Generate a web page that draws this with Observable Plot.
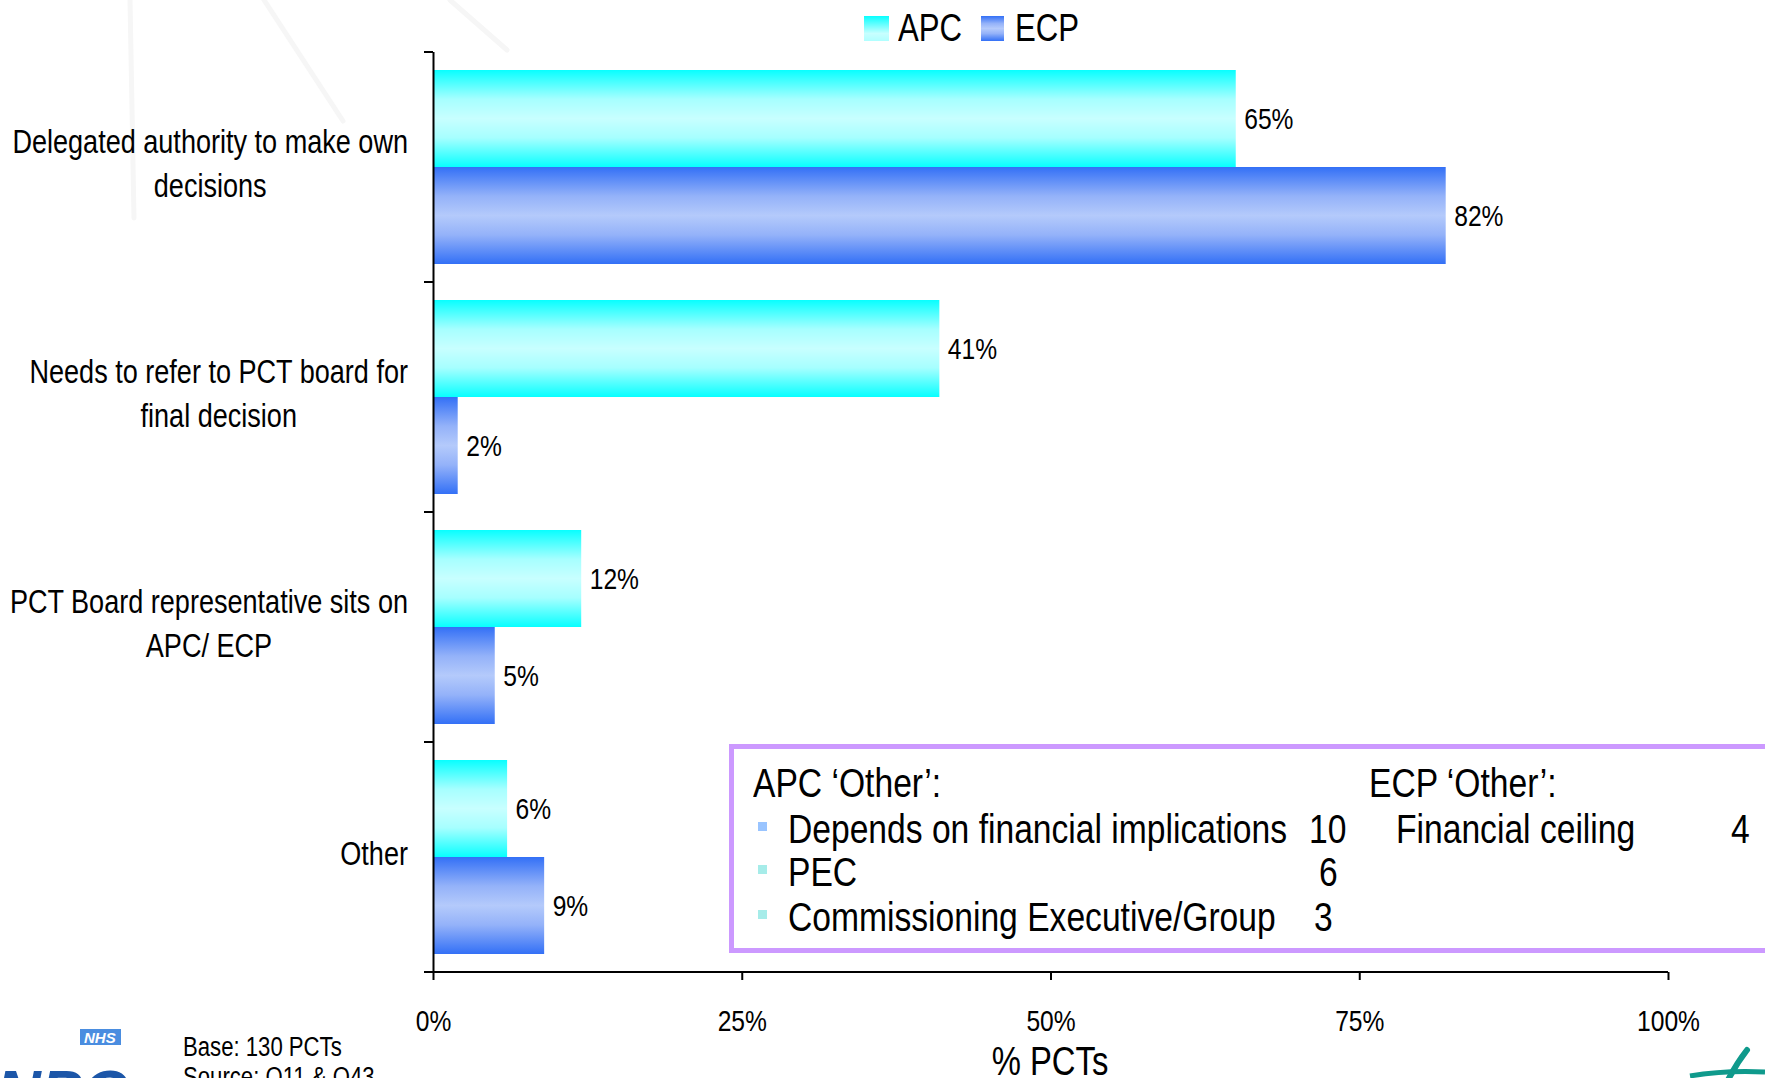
<!DOCTYPE html>
<html><head><meta charset="utf-8">
<script src="https://cdn.jsdelivr.net/npm/d3@7"></script>
<script src="https://cdn.jsdelivr.net/npm/@observablehq/plot@0.6"></script>
<style>
body{margin:0;background:#fff;}
#wrap{position:relative;width:1765px;height:1078px;overflow:hidden;font-family:"Liberation Sans",Arial,sans-serif;color:#000;}
.abs{position:absolute;white-space:nowrap;line-height:1;}
</style></head><body>
<div id="wrap"></div>
<script>
// ---------- data ----------
const categories = ["Delegated authority to make own decisions", "Needs to refer to PCT board for final decision", "PCT Board representative sits on APC/ ECP", "Other"];
const categoryLines = [["Delegated authority to make own","decisions"],["Needs to refer to PCT board for","final decision"],["PCT Board representative sits on","APC/ ECP"],["Other"]];
const series = ["APC","ECP"];
const apcValues = [65,41,12,6];
const ecpValues = [82,2,5,9];
const xTicks = [0,25,50,75,100];
const apcOtherLabels = ["Depends on financial implications","PEC","Commissioning Executive/Group"];
const apcOtherCounts = [10,6,3];
const ecpOtherLabels = ["Financial ceiling"];
const ecpOtherCounts = [4];
const baseText = ["Base: 130 PCTs","Source: Q11 & Q43"];

const rows = [];
categories.forEach((c,i)=>{
  rows.push({cat:c, series:"APC", value:apcValues[i]});
  rows.push({cat:c, series:"ECP", value:ecpValues[i]});
});

const FONT = '"Liberation Sans",Arial,sans-serif';
const NARROW = 0.82;
const W = 1765, H = 1078;
const wrap = document.getElementById("wrap");

// faint slide-background watermark strokes
const bg = document.createElementNS("http://www.w3.org/2000/svg","svg");
bg.setAttribute("width","600"); bg.setAttribute("height","240");
bg.innerHTML = '<g stroke="#f6f6f6" stroke-width="5" fill="none" stroke-linecap="round">' +
  '<path d="M130 0 L134 218"/><path d="M264 0 L343 121"/><path d="M450 0 L507 50"/></g>';
Object.assign(bg.style, {position:"absolute", left:"0", top:"0"}); wrap.appendChild(bg);

// gradient defs (shared by plot and legend)
const defs = document.createElementNS("http://www.w3.org/2000/svg","svg");
defs.setAttribute("width","0");defs.setAttribute("height","0");
defs.style.position="absolute";
defs.innerHTML = `<defs>
<linearGradient id="gAPC" x1="0" y1="0" x2="0" y2="1">
 <stop offset="0" stop-color="#08ffff"/><stop offset="0.3" stop-color="#a6ffff"/>
 <stop offset="0.5" stop-color="#c8ffff"/><stop offset="0.7" stop-color="#a6ffff"/>
 <stop offset="1" stop-color="#08ffff"/></linearGradient>
<linearGradient id="gECP" x1="0" y1="0" x2="0" y2="1">
 <stop offset="0" stop-color="#3370f6"/><stop offset="0.3" stop-color="#94b2f9"/>
 <stop offset="0.5" stop-color="#b4cafb"/><stop offset="0.7" stop-color="#94b2f9"/>
 <stop offset="1" stop-color="#3370f6"/></linearGradient>
<linearGradient id="gAPCsw" x1="0" y1="0" x2="0" y2="1">
 <stop offset="0" stop-color="#08ffff"/><stop offset="0.7" stop-color="#c8ffff"/>
 <stop offset="1" stop-color="#b0ffff"/></linearGradient>
</defs>`;
wrap.appendChild(defs);

const plot = Plot.plot({
  width: W, height: H,
  marginLeft: 433, marginRight: 97, marginTop: 51, marginBottom: 105,
  style: {fontFamily: FONT, fontSize: "30px", background: "transparent", color: "#000", overflow: "visible"},
  facet: {data: rows, y: "cat"},
  fy: {domain: categories, padding: 0, axis: null, label: null},
  y: {domain: series, paddingInner: 0, paddingOuter: 0.176, axis: null},
  x: {domain: [0,100], ticks: xTicks, tickFormat: d => d + "%", tickSize: 8, tickPadding: 29, label: null},
  marks: [
    Plot.barX(rows, {filter: d => d.series === "APC", x: "value", y: "series", fill: "url(#gAPC)"}),
    Plot.barX(rows, {filter: d => d.series === "ECP", x: "value", y: "series", fill: "url(#gECP)"}),
    Plot.text(rows, {x: "value", y: "series", text: d => d.value + "%", textAnchor: "start", dx: 8, fontSize: 30, fill: "#000"}),
    Plot.ruleX([0], {stroke: "#000", strokeWidth: 2})
  ]
});
plot.style.position = "absolute"; plot.style.left = "0"; plot.style.top = "0";
wrap.appendChild(plot);

// axis decorations through the plot's scales
const svg = d3.select(plot);
const xs = plot.scale("x");
let fyS = null; try { fyS = plot.scale("fy"); } catch(e) {}
const top0 = 51, bottom0 = H - 105;
let starts, bw;
if (fyS && fyS.apply && fyS.bandwidth) { starts = categories.map(c => fyS.apply(c)); bw = fyS.bandwidth; }
else { bw = (bottom0 - top0) / categories.length; starts = categories.map((c,i) => top0 + i * bw); }
const x0 = xs.apply(0), x100 = xs.apply(100);
const deco = svg.append("g").attr("stroke", "#000").attr("stroke-width", 2);
deco.append("line").attr("x1", x0 - 9).attr("x2", x100).attr("y1", starts[3] + bw).attr("y2", starts[3] + bw);
[...starts, starts[3] + bw].forEach(b => deco.append("line").attr("x1", x0 - 9).attr("x2", x0).attr("y1", b).attr("y2", b));
svg.selectAll('g[aria-label="x-axis tick"] path, g[aria-label="x-axis"] line').attr("stroke-width", 2);

// narrow all plot texts (condensed look)
svg.selectAll("text").each(function() {
  const w = this.getComputedTextLength();
  if (w > 0) { this.setAttribute("textLength", w * NARROW); this.setAttribute("lengthAdjust", "spacingAndGlyphs"); }
});

// category labels (block right-aligned, lines centred)
const labG = svg.append("g").attr("font-family", FONT).attr("font-size", 33).attr("fill", "#000");
const rightEdge = 408, lh = 44;
categoryLines.forEach((lines, i) => {
  const cy = starts[i] + bw / 2 - 4;
  const widths = lines.map(t => { const n = labG.append("text").text(t); const w = n.node().getComputedTextLength(); n.remove(); return w; });
  const cx = rightEdge - NARROW * Math.max(...widths) / 2;
  lines.forEach((t, k) => {
    labG.append("text").attr("x", cx).attr("y", cy + (k - (lines.length - 1) / 2) * lh)
      .attr("dy", "0.36em").attr("text-anchor", "middle")
      .attr("textLength", widths[k] * NARROW).attr("lengthAdjust", "spacingAndGlyphs").text(t);
  });
});

// ---------- HTML annotations ----------
function addText(txt, left, cy, fs, extra, noNarrow) {
  const d = document.createElement("div");
  d.className = "abs"; d.textContent = txt;
  d.style.left = left + "px"; d.style.top = (cy - fs * 0.5) + "px"; d.style.fontSize = fs + "px";
  if (!noNarrow) { d.style.transform = "scaleX(" + NARROW + ")"; d.style.transformOrigin = "0 50%"; }
  if (extra) Object.assign(d.style, extra);
  wrap.appendChild(d); return d;
}
function addBox(left, top, w, h, style) {
  const d = document.createElement("div"); d.className = "abs";
  Object.assign(d.style, {left: left + "px", top: top + "px", width: w + "px", height: h + "px", boxSizing: "border-box"}, style);
  wrap.appendChild(d); return d;
}
// legend
const sw1 = document.createElementNS("http://www.w3.org/2000/svg","svg");
sw1.setAttribute("width","25"); sw1.setAttribute("height","25");
sw1.innerHTML = '<rect width="25" height="25" fill="url(#gAPCsw)"/>';
Object.assign(sw1.style, {position:"absolute", left:"864px", top:"16px"}); wrap.appendChild(sw1);
const sw2 = document.createElementNS("http://www.w3.org/2000/svg","svg");
sw2.setAttribute("width","23"); sw2.setAttribute("height","25");
sw2.innerHTML = '<rect width="23" height="25" fill="url(#gECP)"/>';
Object.assign(sw2.style, {position:"absolute", left:"981px", top:"16px"}); wrap.appendChild(sw2);
addText(series[0], 898, 28, 38);
addText(series[1], 1015, 28, 38);

// axis title
addText("% PCTs", 1050, 1061, 40, {transform: "translateX(-50%) scaleX(" + NARROW + ")", transformOrigin: "50% 50%"});

// "Other" box
addBox(729, 744, 1100, 209, {border: "5px solid #cc99ff", background: "#fff"});
addText("APC \u2018Other\u2019:", 753, 783, 41);
addText("ECP \u2018Other\u2019:", 1369, 783, 41);
const lineY = [829, 872, 917];
const countX = [1309, 1319, 1314];
const bulletCol = ["#99c4ff", "#a6ece9", "#a6ece9"];
apcOtherLabels.forEach((t, i) => {
  addBox(758, lineY[i] - 7, 9, 9, {background: bulletCol[i]});
  addText(t, 788, lineY[i], 41);
  addText(String(apcOtherCounts[i]), countX[i], lineY[i], 41);
});
ecpOtherLabels.forEach((t, i) => {
  addText(t, 1396, lineY[i], 41);
  addText(String(ecpOtherCounts[i]), 1731, lineY[i], 41);
});

// base / source
addText(baseText[0], 183, 1047, 27);
addText(baseText[1], 183, 1077, 27);

// logos (decorative)
addBox(80, 1029, 41, 16, {background: "#4a8de0"});
addText("NHS", 84, 1037, 15, {color: "#fff", fontWeight: "bold", fontStyle: "italic"}, true);
addText("NPC", -4, 1092, 62, {color: "#1c56a8", fontWeight: "bold", fontStyle: "italic"}, true);
const sw = document.createElementNS("http://www.w3.org/2000/svg","svg");
sw.setAttribute("width","90"); sw.setAttribute("height","40");
sw.innerHTML = '<path d="M47 40 Q56 22 67 8" stroke="#0f9a8c" stroke-width="6" fill="none" stroke-linecap="round"/><path d="M10 34 Q45 28 85 30" stroke="#0f9a8c" stroke-width="5" fill="none"/>';
Object.assign(sw.style, {position:"absolute", left:"1680px", top:"1042px"}); wrap.appendChild(sw);
</script>
</body></html>
